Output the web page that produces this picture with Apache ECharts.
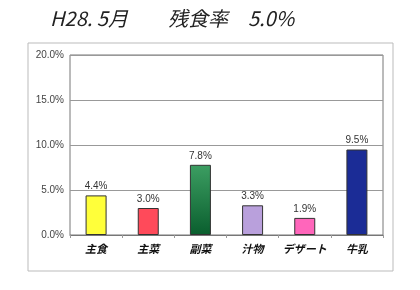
<!DOCTYPE html>
<html>
<head>
<meta charset="utf-8">
<script src="https://cdn.jsdelivr.net/npm/echarts@6/dist/echarts.min.js"></script>
<style>
  html, body { margin: 0; padding: 0; background: #fff; }
  #chart { width: 420px; height: 290px; }
</style>
</head>
<body>
<div id="chart"></div>
<script>
// data
var categories = ['主食', '主菜', '副菜', '汁物', 'デザート', '牛乳'];
var rates = [4.4, 3.0, 7.8, 3.3, 1.9, 9.5];
var barColors = ['#ffff3a', '#ff4a5a', null, '#b9a0dc', '#ff66bb', '#1b2c96'];
var titleText = 'H28. 5月　　残食率　5.0%';

var chart = echarts.init(document.getElementById('chart'));

var seriesData = rates.map(function (v, i) {
    var c = barColors[i];
    if (c === null) {
        // green bar has a gradient
        c = new echarts.graphic.LinearGradient(0, 0, 0, 1, [
            { offset: 0, color: '#3c9e62' },
            { offset: 1, color: '#0a5e2e' }
        ]);
    }
    return { value: v, itemStyle: { color: c } };
});

var option = {
    backgroundColor: '#fff',
    animation: false,
    title: {
        text: titleText,
        left: 45,
        top: 3,
        textStyle: {
            fontFamily: 'Noto Sans CJK JP',
            fontStyle: 'italic',
            fontWeight: 'normal',
            fontSize: 20,
            color: '#222'
        }
    },
    // outer frame of the chart sheet
    graphic: [{
        type: 'rect',
        shape: { x: 28, y: 43, width: 365, height: 228 },
        style: { fill: 'none', stroke: '#bbb', lineWidth: 1 },
        silent: true
    }],
    grid: {
        left: 70,
        right: 37,
        top: 55,
        bottom: 55,
        show: true,
        borderColor: '#777',
        borderWidth: 1
    },
    xAxis: {
        type: 'category',
        data: categories,
        axisLine: { lineStyle: { color: '#777' } },
        axisTick: { show: true, length: 3, lineStyle: { color: '#999' } },
        axisLabel: {
            interval: 0,
            fontFamily: 'Noto Sans CJK JP',
            fontStyle: 'italic',
            fontWeight: 'bold',
            fontSize: 11,
            color: '#111',
            margin: 8
        }
    },
    yAxis: {
        type: 'value',
        min: 0,
        max: 20,
        interval: 5,
        axisLine: { show: false },
        axisTick: { show: false },
        splitLine: { lineStyle: { color: '#999', width: 1 } },
        axisLabel: {
            formatter: function (v) { return v.toFixed(1) + '%'; },
            fontFamily: 'Liberation Sans',
            fontSize: 10,
            color: '#444',
            margin: 6
        }
    },
    series: [{
        type: 'bar',
        data: seriesData,
        barWidth: 21,
        itemStyle: { borderColor: '#333', borderWidth: 1 },
        label: {
            show: true,
            position: 'top',
            distance: 4,
            formatter: function (p) { return p.value.toFixed(1) + '%'; },
            fontFamily: 'Liberation Sans',
            fontSize: 10,
            color: '#333'
        }
    }]
};

chart.setOption(option);
</script>
</body>
</html>
